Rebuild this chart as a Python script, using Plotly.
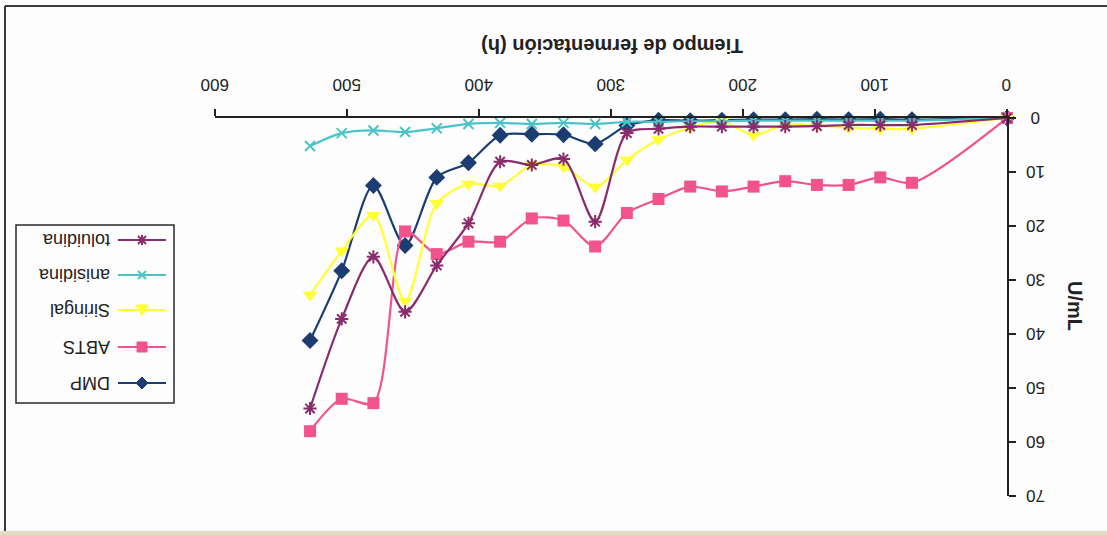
import plotly.graph_objects as go

# Fermentation time (h)
tiempo = [0, 72, 96, 120, 144, 168, 192, 216, 240, 264, 288,
          312, 336, 360, 384, 408, 432, 456, 480, 504, 528]

# Enzyme activity (U/mL) per substrate
dmp = [0, 0.3, 0.2, 0.3, 0.2, 0.3, 0.3, 0.4, 0.5, 0.4, 1.4,
       4.8, 3.1, 3.0, 3.2, 8.3, 11.0, 23.6, 12.5, 28.3, 41.2]
abts = [0, 12.0, 11.0, 12.4, 12.4, 11.7, 12.7, 13.6, 12.7, 15.0, 17.6,
        23.8, 19.0, 18.6, 22.9, 22.9, 25.2, 21.0, 52.8, 52.0, 58.0]
siringal = [0, 2.0, 2.0, 1.8, 1.5, 1.2, 3.2, 0.6, 1.8, 4.0, 7.8,
            12.8, 9.0, 8.7, 12.6, 12.2, 15.8, 33.9, 18.0, 24.6, 32.8]
anisidina = [0, 0.5, 0.5, 0.5, 0.5, 0.5, 0.5, 0.6, 0.6, 0.7, 0.7,
             1.1, 0.9, 1.1, 0.9, 1.1, 1.9, 2.6, 2.3, 2.8, 5.2]
toluidina = [0, 1.3, 1.3, 1.3, 1.5, 1.6, 1.6, 1.6, 1.6, 2.0, 2.8,
             19.2, 7.6, 8.7, 8.1, 19.5, 27.3, 35.9, 25.7, 37.2, 53.8]

x_ticks = [0, 100, 200, 300, 400, 500, 600]
y_ticks = [0, 10, 20, 30, 40, 50, 60, 70]

W, H = 1107, 535
L, R, T, B = 215, 1007, 118, 496   # plot area in pixels
TXT = "#222222"

series = [
    ("DMP", dmp, "#1c3d72", dict(symbol="diamond", size=13)),
    ("ABTS", abts, "#f2538c", dict(symbol="square", size=12)),
    ("Siringal", siringal, "#ffff33", dict(symbol="triangle-down", size=13)),
    ("anisidina", anisidina, "#4cc3c6", dict(symbol="x-thin-open", size=10,
                                             line=dict(width=2, color="#4cc3c6"))),
    ("toluidina", toluidina, "#8a2c6c", dict(symbol="asterisk-open", size=11,
                                             line=dict(width=2, color="#8a2c6c"))),
]

fig = go.Figure()
for name, vals, col, mk in series:
    fig.add_trace(go.Scatter(
        x=tiempo, y=vals, name=name, mode="lines+markers",
        line=dict(color=col, width=2.2, shape="spline", smoothing=0.8),
        marker=dict(color=col, **mk), cliponaxis=False, showlegend=False))


def px(x):
    return (x - L) / (R - L)


def py(y):
    return (B - y) / (B - T)


shapes = []
annotations = []

# outer frame and bottom strip
shapes.append(dict(type="line", xref="paper", yref="paper", x0=px(5), x1=px(W),
                   y0=py(6), y1=py(6), line=dict(color="#3a3a3a", width=2)))
shapes.append(dict(type="line", xref="paper", yref="paper", x0=px(5), x1=px(5),
                   y0=py(6), y1=py(H), line=dict(color="#3a3a3a", width=2)))
shapes.append(dict(type="rect", xref="paper", yref="paper", x0=px(0), x1=px(W),
                   y0=py(531), y1=py(H), line=dict(width=0), fillcolor="#e6dcc2"))

# legend box
shapes.append(dict(type="rect", xref="paper", yref="paper", x0=px(16), x1=px(174),
                   y0=py(225), y1=py(403), line=dict(color="#2a2a2a", width=1.5),
                   fillcolor="rgba(0,0,0,0)"))

legend_y = {"toluidina": 240, "anisidina": 275, "Siringal": 310, "ABTS": 347, "DMP": 383}
glyphs = {
    "DMP": ("M -6,0 L 0,6 L 6,0 L 0,-6 Z", True),
    "ABTS": ("M -5,-5 L 5,-5 L 5,5 L -5,5 Z", True),
    "Siringal": ("M -6,5 L 6,5 L 0,-6 Z", True),
    "anisidina": ("M -4,-4 L 4,4 M -4,4 L 4,-4", False),
    "toluidina": ("M -4,-4 L 4,4 M -4,4 L 4,-4 M 0,-5 L 0,5", False),
}
for name, vals, col, mk in series:
    yy = py(legend_y[name])
    shapes.append(dict(type="line", xref="paper", yref="paper", x0=px(118), x1=px(166),
                       y0=yy, y1=yy, line=dict(color=col, width=2)))
    path, filled = glyphs[name]
    shapes.append(dict(type="path", xref="paper", yref="paper", xsizemode="pixel",
                       ysizemode="pixel", xanchor=px(142), yanchor=yy, path=path,
                       fillcolor=col if filled else "rgba(0,0,0,0)",
                       line=dict(color=col, width=2 if not filled else 1)))
    annotations.append(dict(text=name, xref="paper", yref="paper", x=px(112), y=yy,
                            xanchor="right", yanchor="middle", textangle=180,
                            showarrow=False, font=dict(size=18, color=TXT)))

# upside-down tick labels
for v in x_ticks:
    annotations.append(dict(text=str(v), xref="x", yref="paper", x=v, y=py(85),
                            xanchor="center", yanchor="middle", textangle=180,
                            showarrow=False, font=dict(size=17, color=TXT)))
for v in y_ticks:
    annotations.append(dict(text=str(v), xref="paper", yref="y", x=px(1036), y=v,
                            xanchor="center", yanchor="middle", textangle=180,
                            showarrow=False, font=dict(size=17, color=TXT)))

# axis titles
annotations.append(dict(text="<b>Tiempo de fermentación (h)</b>", xref="paper", yref="paper",
                        x=px(612), y=py(46), xanchor="center", yanchor="middle",
                        textangle=180, showarrow=False, font=dict(size=20, color=TXT)))
annotations.append(dict(text="<b>U/mL</b>", xref="paper", yref="paper",
                        x=px(1075), y=py(306), xanchor="center", yanchor="middle",
                        textangle=90, showarrow=False, font=dict(size=20, color=TXT)))

fig.update_layout(
    width=W, height=H,
    margin=dict(l=L, r=W - R, t=T, b=H - B, autoexpand=False),
    paper_bgcolor="#fdfdfd", plot_bgcolor="#fdfdfd",
    font=dict(family="Liberation Sans, Arial, sans-serif", color=TXT, size=16),
    shapes=shapes, annotations=annotations, showlegend=False,
    xaxis=dict(range=[600, 0], side="top", tickvals=x_ticks, showticklabels=False,
               ticks="outside", ticklen=7, tickwidth=2, tickcolor=TXT,
               showline=True, linecolor=TXT, linewidth=2, showgrid=False, zeroline=False),
    yaxis=dict(range=[70, 0], side="right", tickvals=y_ticks, showticklabels=False,
               ticks="outside", ticklen=7, tickwidth=2, tickcolor=TXT,
               showline=True, linecolor=TXT, linewidth=2, showgrid=False, zeroline=False),
)

fig.write_html("out.html")
